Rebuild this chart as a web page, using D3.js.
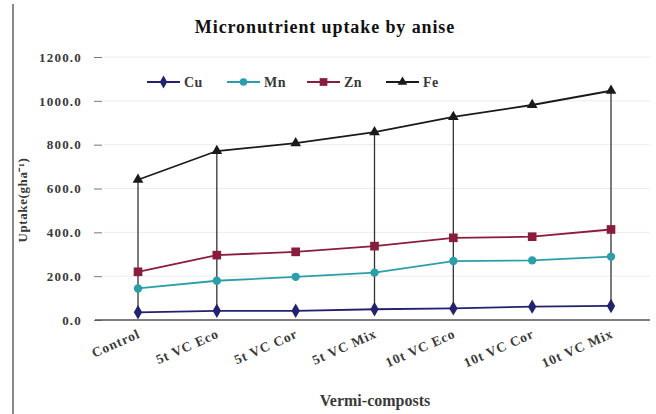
<!DOCTYPE html>
<html><head><meta charset="utf-8">
<script src="https://cdn.jsdelivr.net/npm/d3@7"></script>
<style>body{margin:0;background:#fff}svg{display:block}</style>
</head><body>
<svg id="c" width="656" height="414"></svg>
<script>
const categories = ["Control","5t VC Eco","5t VC Cor","5t VC Mix","10t VC Eco","10t VC Cor","10t VC Mix"];
const cu = [35, 42, 42, 49, 53, 61, 64];
const mn = [144, 179, 197, 216, 269, 272, 289];
const zn = [220, 296, 311, 337, 375, 380, 413];
const fe = [640, 771, 807, 857, 927, 981, 1046];
const dropIdx = [0, 1, 3, 4, 6];
const yTicks = [0, 200, 400, 600, 800, 1000, 1200];
const seriesNames = ["Cu","Mn","Zn","Fe"];

const svg = d3.select("#c");
const font = "'Liberation Serif','Times New Roman',serif";
const x = d3.scalePoint().domain(categories).range([138, 611]);
const y = d3.scaleLinear().domain([0, 1200]).range([320, 57]);

const series = [
  {name:"Cu", vals:cu, color:"#22226e", shape:d3.symbolDiamond, size:60},
  {name:"Mn", vals:mn, color:"#2a9fab", shape:d3.symbolCircle, size:55},
  {name:"Zn", vals:zn, color:"#8a1c3c", shape:d3.symbolSquare, size:75},
  {name:"Fe", vals:fe, color:"#1a1a1a", shape:d3.symbolTriangle, size:50}
];

// frame line on left
svg.append("line").attr("x1",13).attr("x2",13).attr("y1",4).attr("y2",414)
  .attr("stroke","#8a8a8a").attr("stroke-width",2);

// gridlines
svg.append("g").selectAll("line").data(yTicks.filter(d=>d>0)).join("line")
  .attr("x1",104).attr("x2",650).attr("y1",d=>y(d)).attr("y2",d=>y(d))
  .attr("stroke","#ececec").attr("stroke-width",1);

// y axis ticks/labels
const yAxis = d3.axisLeft(y).tickValues(yTicks).tickFormat(d3.format(".1f")).tickSize(8).tickPadding(12);
const ga = svg.append("g").attr("transform","translate(102,0)").call(yAxis);
ga.select(".domain").remove();
ga.selectAll("line").attr("stroke","#777");
ga.selectAll("text").attr("font-family",font).attr("font-weight","bold").attr("font-size",13)
  .attr("letter-spacing",1.2).attr("fill","#3a3a3a");

// x axis line
svg.append("line").attr("x1",95).attr("x2",650).attr("y1",y(0)).attr("y2",y(0))
  .attr("stroke","#555").attr("stroke-width",1.5);

// x category labels
svg.append("g").selectAll("text").data(categories).join("text")
  .attr("transform",d=>`translate(${x(d)+3},${y(0)+17}) rotate(-24)`)
  .attr("text-anchor","end").attr("font-family",font).attr("font-weight","bold")
  .attr("font-size",13.5).attr("letter-spacing",0.9).attr("fill","#3a3a3a").text(d=>d);

// drop lines
svg.append("g").selectAll("line").data(dropIdx).join("line")
  .attr("x1",i=>x(categories[i])).attr("x2",i=>x(categories[i]))
  .attr("y1",i=>y(fe[i])).attr("y2",i=>y(cu[i]))
  .attr("stroke","#333").attr("stroke-width",1.3);

// series
const line = d3.line().x((d,i)=>x(categories[i])).y(d=>y(d));
series.forEach(s=>{
  svg.append("path").datum(s.vals).attr("d",line).attr("fill","none")
    .attr("stroke",s.color).attr("stroke-width",1.8);
  svg.append("g").selectAll("path").data(s.vals).join("path")
    .attr("transform",(d,i)=>`translate(${x(categories[i])},${y(d)})`)
    .attr("d",d3.symbol().type(s.shape).size(s.size)).attr("fill",s.color);
});

// legend
const legX = [147, 227, 307, 386];
series.forEach((s,i)=>{
  const g = svg.append("g").attr("transform",`translate(${legX[i]},82)`);
  g.append("line").attr("x1",0).attr("x2",33).attr("stroke",s.color).attr("stroke-width",1.8);
  g.append("path").attr("transform","translate(16.5,0)").attr("d",d3.symbol().type(s.shape).size(s.size*0.8)).attr("fill",s.color);
  g.append("text").attr("x",37).attr("y",5).attr("font-family",font).attr("font-weight","bold")
    .attr("font-size",14).attr("letter-spacing",0.5).attr("fill","#3a3a3a").text(seriesNames[i]);
});

// title
svg.append("text").attr("x",325).attr("y",33).attr("text-anchor","middle")
  .attr("font-family",font).attr("font-weight","bold").attr("font-size",18).attr("letter-spacing",0.9)
  .attr("fill","#111").text("Micronutrient uptake by anise");

// axis titles
svg.append("text").attr("transform","translate(27,200) rotate(-90)").attr("text-anchor","middle")
  .attr("font-family",font).attr("font-weight","bold").attr("font-size",13).attr("letter-spacing",0.6).attr("fill","#3a3a3a")
  .text("Uptake(gha\u207B\u00B9)");
svg.append("text").attr("x",375).attr("y",406).attr("text-anchor","middle")
  .attr("font-family",font).attr("font-weight","bold").attr("font-size",16).attr("fill","#3a3a3a")
  .text("Vermi-composts");
</script>
</body></html>
